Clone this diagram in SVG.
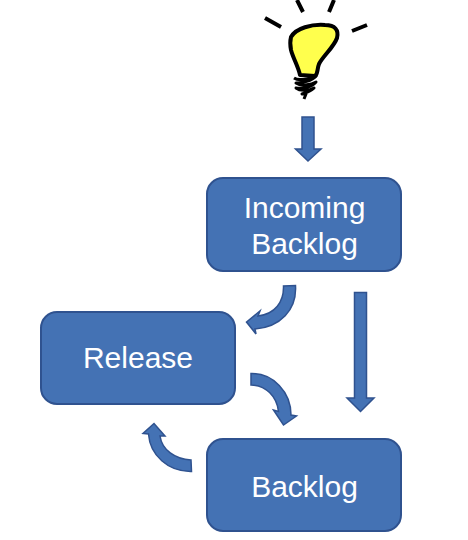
<svg xmlns="http://www.w3.org/2000/svg" width="468" height="540" viewBox="0 0 468 540">
<style>
.box{fill:#4472B4;stroke:#2F528F;stroke-width:2}
.arr{fill:#4472B4;stroke:#2F528F;stroke-width:1.5;stroke-linejoin:miter}
.t{font-family:"Liberation Sans",Arial,sans-serif;font-size:30px;fill:#fff;text-anchor:middle}
.ray{stroke:#000;stroke-width:4;fill:none}
</style>
<rect width="468" height="540" fill="#fff"/>
<g id="bulb">
<path class="ray" d="M265 18L281 27M297 0L303 12M334 0L329 12M352 31L367 25"/>
<path d="M291 37C296 28 312 24 325 25C335 25 339 30 337 38C334 47 323 56 319 64C317 69 318 74 315 76L300 75C298 66 293 58 291 50C290 45 290 41 291 37Z" fill="#FFFF4D" stroke="#000" stroke-width="4" stroke-linejoin="round"/>
<path d="M294 78C300 82 310 78 316 76C312 81 302 83 296 83C302 87 312 84 316 82C312 87 302 89 296 88C301 92 310 90 314 88C310 92 305 93 302 94L306 94L304 99" fill="none" stroke="#000" stroke-width="3" stroke-linejoin="round"/>
</g>
<g id="connectors">
<path class="arr" d="M302 117H314V149H321L308 161L295.500 149H302Z"/>
<path class="arr" d="M354.500 292.500H366.500V398H374L360.500 411.500L347 398H354.500Z"/>
<path class="arr" d="M283.500 286C284 302 275 314 258 316L260 311L246.500 322L256 334L255 329C280 327 297 310 295.500 285.500Z"/>
<path class="arr" d="M251 373.500C273 373 291 392 291 415L296.500 416L283.500 425L273.500 410L278.500 411.500C277 397 266 385 251 385Z"/>
<path class="arr" d="M191 460C175 459 162 450 160 436H165L154 423.500L143 433.500L148.500 434C150 455 168 472 191.500 471.500Z"/>
</g>
<g id="incoming-backlog">
<rect class="box" x="207" y="178" width="194" height="93" rx="16"/>
<text class="t" x="304.500" y="218">Incoming</text>
<text class="t" x="304.500" y="254">Backlog</text>
</g>
<g id="release">
<rect class="box" x="41" y="312" width="194" height="92" rx="16"/>
<text class="t" x="138" y="368">Release</text>
</g>
<g id="backlog">
<rect class="box" x="207" y="439" width="194" height="92" rx="16"/>
<text class="t" x="304.500" y="497">Backlog</text>
</g>
</svg>
